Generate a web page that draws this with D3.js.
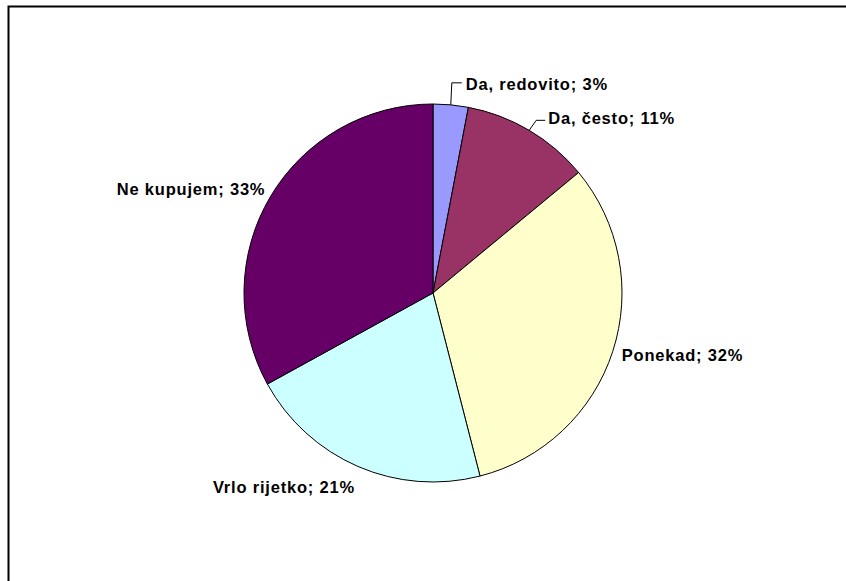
<!DOCTYPE html>
<html>
<head>
<meta charset="utf-8">
<script src="https://cdn.jsdelivr.net/npm/d3@7"></script>
<style>
  body { margin: 0; background: #fff; }
  text { font-family: "Liberation Sans", Arial, sans-serif; font-weight: bold; font-size: 16.5px; letter-spacing: 0.8px; fill: #000; }
</style>
</head>
<body>
<svg id="chart" width="846" height="581"></svg>
<script>
// answers, clockwise from 12 o'clock
const categories = ["Da, redovito", "Da, često", "Ponekad", "Vrlo rijetko", "Ne kupujem"];
const percents = [3, 11, 32, 21, 33];
const colors = ["#9999FF", "#993366", "#FFFFCC", "#CCFFFF", "#660066"];

const svg = d3.select("#chart");
const cx = 433, cy = 293, radius = 189;

// outer frame (runs off the right and bottom edge)
svg.append("rect")
    .attr("x", 8.5).attr("y", 6.5)
    .attr("width", 900).attr("height", 700)
    .attr("fill", "#fff")
    .attr("stroke", "#000")
    .attr("stroke-width", 2);

let data = categories.map(function (c, i) {
    return {name: c, value: percents[i], color: colors[i]};
});

let pie = d3.pie().sort(null).value(function (d) { return d.value; });
let arc = d3.arc().innerRadius(0).outerRadius(radius);
let arcs = pie(data);

let g = svg.append("g").attr("transform", "translate(" + cx + "," + cy + ")");

g.selectAll("path.slice")
    .data(arcs)
    .enter()
    .append("path")
    .attr("class", "slice")
    .attr("d", arc)
    .attr("fill", function (d) { return d.data.color; })
    .attr("stroke", "#000")
    .attr("stroke-width", 1);

// label placement relative to the rim point at the slice's mid angle
// [dx, dy, anchor, leader]
let labelPos = [
    [15, -21, "start", [[0, 0], [1, -22], [11, -22]]],
    [19, -12, "start", [[0, 0], [7, -10], [16, -10]]],
    [9, 4, "start", null],
    [-3, 21, "end", null],
    [-5, -8, "end", null]
];

function rimPoint(d, r) {
    let a = (d.startAngle + d.endAngle) / 2;
    return [Math.sin(a) * r, -Math.cos(a) * r];
}

arcs.forEach(function (d, i) {
    let p = rimPoint(d, radius);
    let lp = labelPos[i];
    if (lp[3]) {
        let pts = lp[3].map(function (q) { return [p[0] + q[0], p[1] + q[1]]; });
        g.append("path")
            .attr("d", d3.line()(pts))
            .attr("fill", "none")
            .attr("stroke", "#000")
            .attr("stroke-width", 1);
    }
    g.append("text")
        .attr("x", p[0] + lp[0])
        .attr("y", p[1] + lp[1])
        .attr("dy", ".35em")
        .attr("text-anchor", lp[2])
        .text(d.data.name + "; " + d.data.value + "%");
});
</script>
</body>
</html>
